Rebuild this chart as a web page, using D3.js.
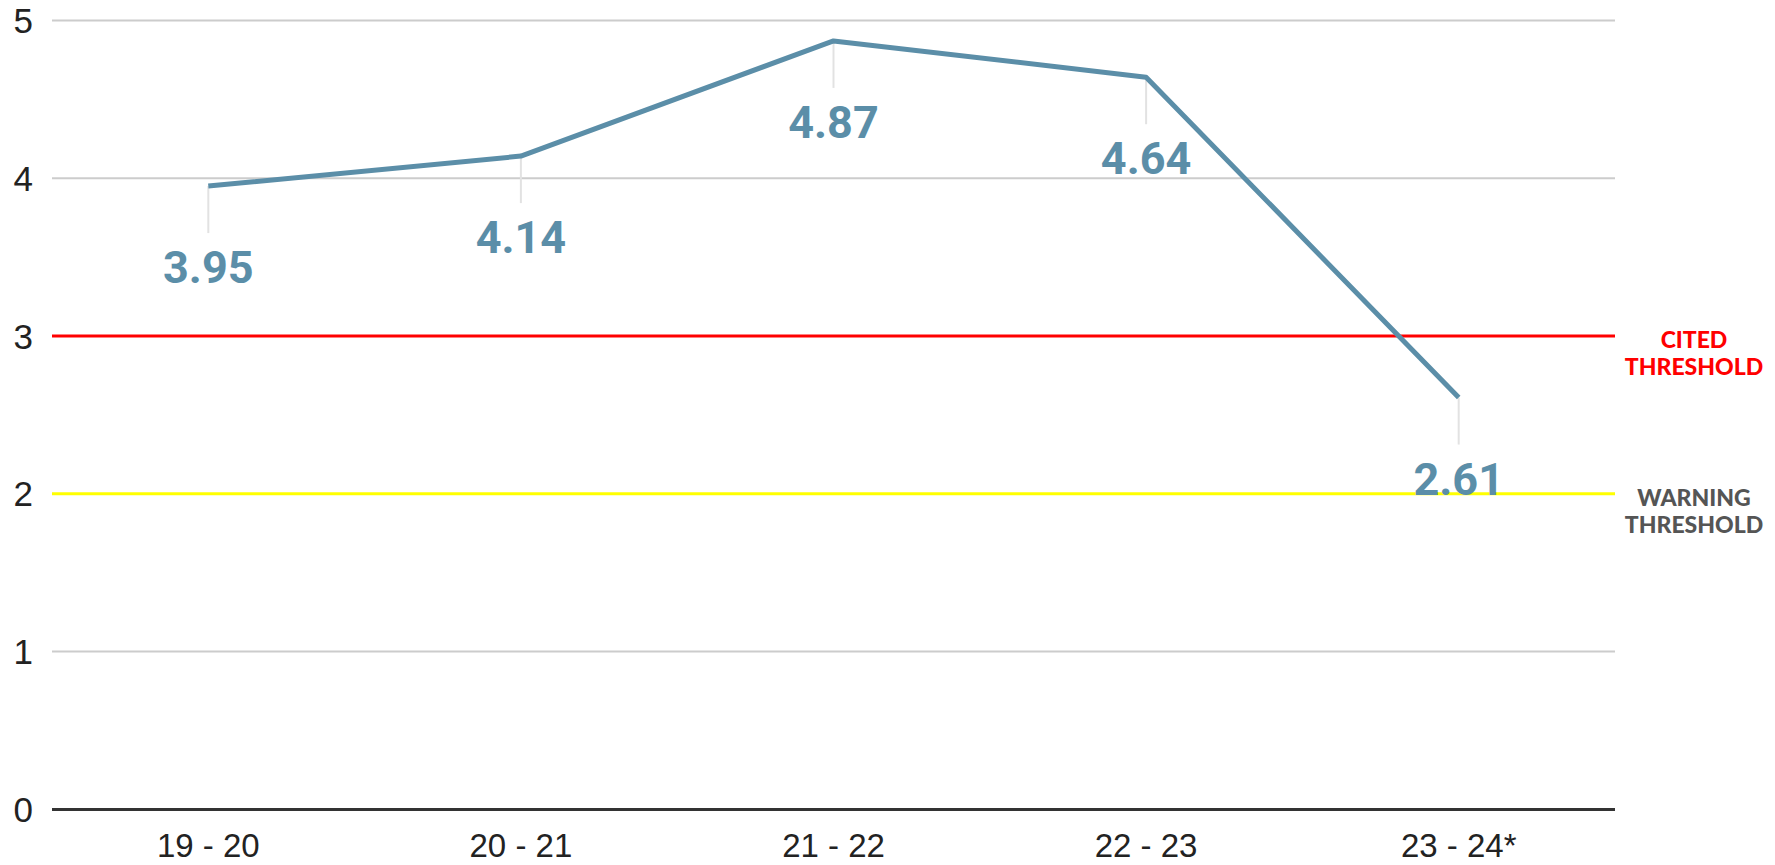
<!DOCTYPE html>
<html lang="en">
<head>
<meta charset="UTF-8">
<title>Thresholds by year</title>
<script src="https://d3js.org/d3.v7.min.js"></script>
<style>
  html, body { margin: 0; padding: 0; background: #fff; }
  svg { display: block; }
</style>
</head>
<body>
<svg width="1775" height="865"></svg>
<script>
    // chart data
    const years = ["19 - 20", "20 - 21", "21 - 22", "22 - 23", "23 - 24*"];
    const scores = [3.95, 4.14, 4.87, 4.64, 2.61];
    const yTicks = [0, 1, 2, 3, 4, 5];
    const thresholdValues = [3, 2];
    const thresholdNames = [["CITED", "THRESHOLD"], ["WARNING", "THRESHOLD"]];
    const thresholdColors = ["#ff0000", "#ffff00"];
    const thresholdTextColors = ["#ff0000", "#555555"];

    const svg = d3.select("svg");
    const plotLeft = 52, plotRight = 1615, plotTop = 20.4, plotBottom = 809.4;

    const x = d3.scaleBand().domain(years).range([plotLeft, plotRight]).padding(0);
    const y = d3.scaleLinear().domain([0, 5]).range([plotBottom, plotTop]);
    const cx = d => x(d) + x.bandwidth() / 2;

    // gridlines
    svg.append("g")
        .selectAll("line")
        .data(yTicks.filter(t => t > 0 && !thresholdValues.includes(t)))
        .enter()
        .append("line")
        .attr("x1", plotLeft).attr("x2", plotRight)
        .attr("y1", d => y(d)).attr("y2", d => y(d))
        .attr("stroke", "#cccccc")
        .attr("stroke-width", 2);

    // y labels
    svg.append("g")
        .selectAll("text")
        .data(yTicks)
        .enter()
        .append("text")
        .attr("x", 33)
        .attr("y", d => y(d))
        .attr("dy", "0.36em")
        .attr("text-anchor", "end")
        .attr("font-family", "'Liberation Sans', Arial, sans-serif")
        .attr("font-size", 35)
        .attr("fill", "#222")
        .text(d => d);

    // threshold lines
    thresholdValues.forEach((t, i) => {
        svg.append("line")
            .attr("x1", plotLeft).attr("x2", plotRight)
            .attr("y1", y(t)).attr("y2", y(t))
            .attr("stroke", thresholdColors[i])
            .attr("stroke-width", 3);

        const lbl = svg.append("text")
            .attr("x", 1694)
            .attr("y", y(t) + 12)
            .attr("text-anchor", "middle")
            .attr("font-family", "Lato, sans-serif")
            .attr("font-weight", 900)
            .attr("font-size", 23)
            .attr("fill", thresholdTextColors[i]);
        thresholdNames[i].forEach((w, j) => {
            lbl.append("tspan")
                .attr("x", 1694)
                .attr("dy", j == 0 ? 0 : 27)
                .text(w);
        });
    });

    // baseline
    svg.append("line")
        .attr("x1", plotLeft).attr("x2", plotRight)
        .attr("y1", y(0)).attr("y2", y(0))
        .attr("stroke", "#333")
        .attr("stroke-width", 3);

    // x labels
    svg.append("g")
        .selectAll("text")
        .data(years)
        .enter()
        .append("text")
        .attr("x", d => cx(d))
        .attr("y", 857)
        .attr("text-anchor", "middle")
        .attr("font-family", "'Liberation Sans', Arial, sans-serif")
        .attr("font-size", 33)
        .attr("fill", "#222")
        .text(d => d);

    const pts = years.map((d, i) => [cx(d), y(scores[i])]);

    // leader lines under each point
    svg.append("g")
        .selectAll("line")
        .data(pts)
        .enter()
        .append("line")
        .attr("x1", d => d[0]).attr("x2", d => d[0])
        .attr("y1", d => d[1]).attr("y2", d => d[1] + 47)
        .attr("stroke", "#e2e2e2")
        .attr("stroke-width", 2);

    // the line
    svg.append("path")
        .datum(pts)
        .attr("d", d3.line())
        .attr("fill", "none")
        .attr("stroke", "#5b8ea8")
        .attr("stroke-width", 5)
        .attr("stroke-linejoin", "round");

    // value labels
    svg.append("g")
        .selectAll("text")
        .data(scores)
        .enter()
        .append("text")
        .attr("x", (d, i) => pts[i][0])
        .attr("y", (d, i) => pts[i][1] + 97)
        .attr("text-anchor", "middle")
        .attr("font-family", "Roboto, sans-serif")
        .attr("font-weight", 700)
        .attr("font-size", 45)
        .attr("fill", "#5b8ea8")
        .text(d => d.toFixed(2));
</script>
</body>
</html>
